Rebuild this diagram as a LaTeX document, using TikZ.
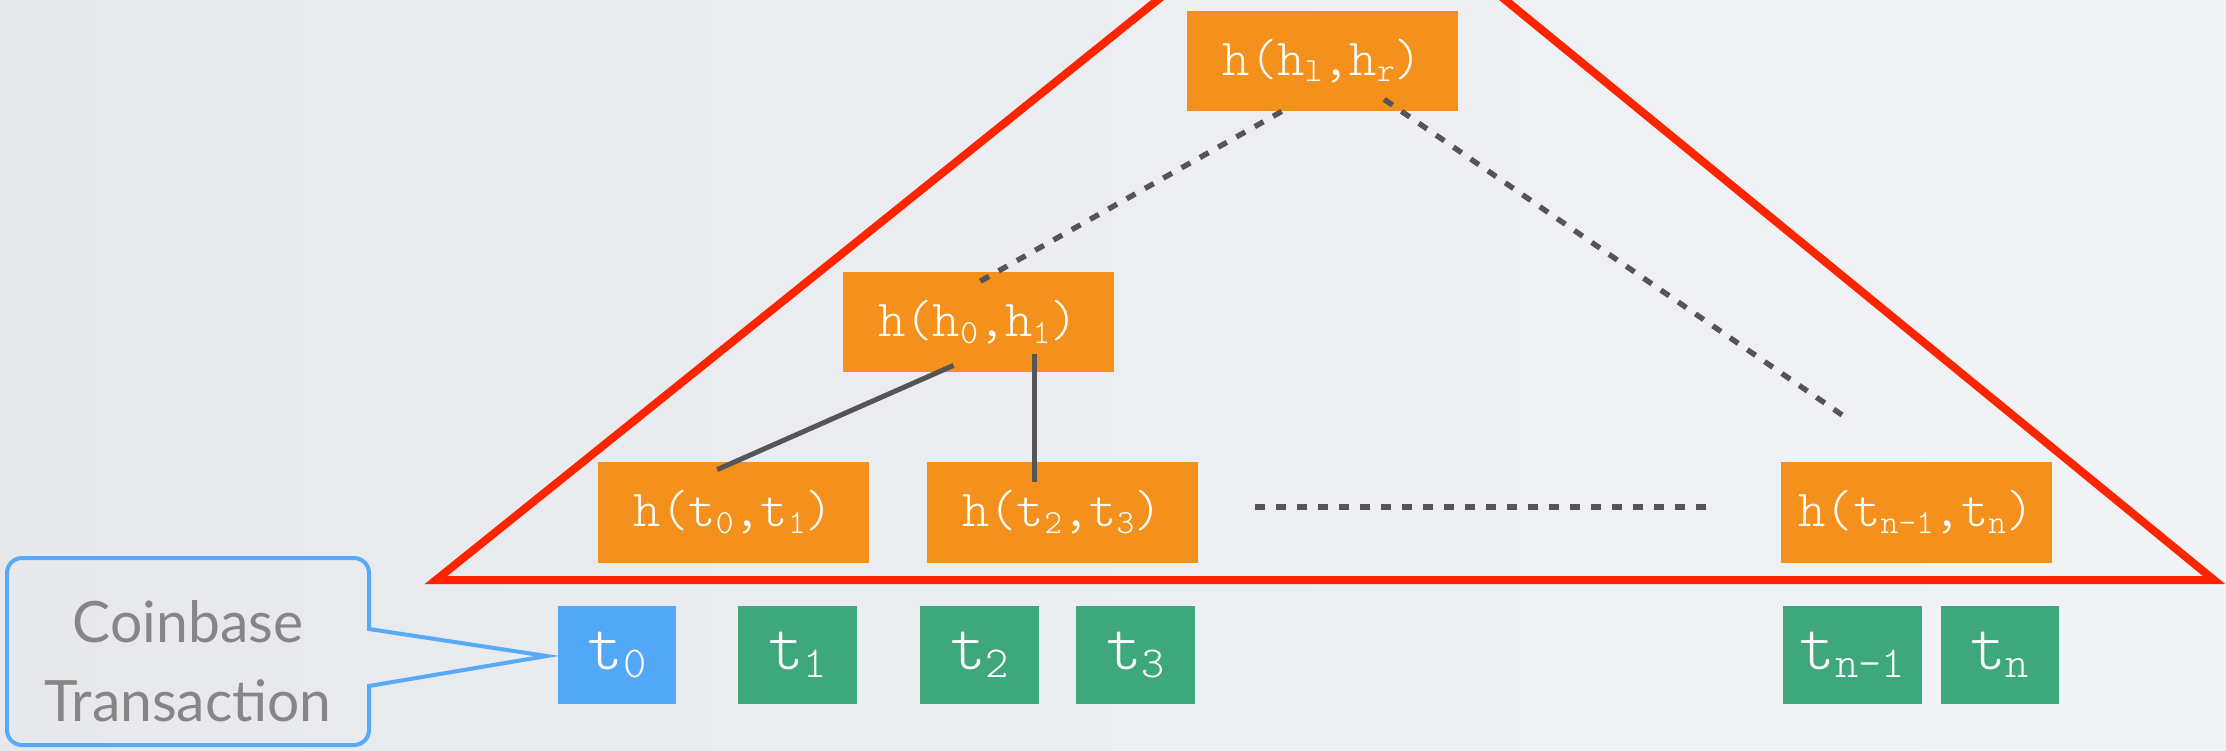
\documentclass[tikz,border=0pt]{standalone}
\usepackage{fontspec}
\usepackage{graphicx}
\newfontfamily\hashfont{Latin Modern Mono Light}
\newfontfamily\callfont{Lato}
\usetikzlibrary{calc}
\definecolor{bgL}{RGB}{230,232,236}
\definecolor{bgR}{RGB}{242,243,246}
\definecolor{orangeA}{RGB}{243,145,28}
\definecolor{greenA}{RGB}{62,167,123}
\definecolor{blueA}{RGB}{82,168,247}
\definecolor{calloutA}{RGB}{87,170,248}
\definecolor{redA}{RGB}{255,36,0}
\definecolor{lineA}{RGB}{85,85,85}
\definecolor{txtA}{RGB}{134,134,134}
\newcommand{\sbs}[1]{\raisebox{-0.12em}{\scalebox{0.65}{#1}}}
\begin{document}
\begin{tikzpicture}[x=0.5pt,y=0.5pt,
  hashbox/.style={fill=orangeA, text=white, minimum width=135.5pt, minimum height=50pt, inner sep=0pt, font=\fontsize{26}{30}\selectfont\hashfont},
  leafbox/.style={fill=greenA, text=white, minimum width=59.5pt, minimum height=49pt, inner sep=0pt, font=\fontsize{34}{38}\selectfont\hashfont},
  redline/.style={draw=redA, line width=4pt, line join=miter},
  dline/.style={draw=lineA, line width=2.7pt, dash pattern=on 5pt off 5.5pt},
  sline/.style={draw=lineA, line width=2.5pt},
  callout/.style={draw=calloutA, line width=2pt, line join=miter}]
\useasboundingbox (0,0) rectangle (2226,750);
\shade[left color=bgL, right color=bgR] (0,0) rectangle (2226,750);
\begin{scope}
\clip (0,0) rectangle (2226,750);
\draw[redline] (436,170) -- (1333,891) -- (2214,170) -- cycle;
\end{scope}
% hash nodes
\node[hashbox] (root) at (1322.5,689) {h(h\sbs{l},h\sbs{r})};
\node[hashbox] (mid) at (978,427.5) {h(h\sbs{0},h\sbs{1})};
\node[hashbox] (h01) at (733.5,237.5) {h(t\sbs{0},t\sbs{1})};
\node[hashbox] (h23) at (1062,237.5) {h(t\sbs{2},t\sbs{3})};
\node[hashbox] (htn) at (1916,237.5) {h(t\sbs{n-1},t\sbs{n})};
% leaves
\node[leafbox, fill=blueA, minimum width=59pt] (t0) at (617,95) {t\sbs{0}};
\node[leafbox] (t1) at (797.5,95) {t\sbs{1}};
\node[leafbox] (t2) at (979.5,95) {t\sbs{2}};
\node[leafbox] (t3) at (1135.5,95) {t\sbs{3}};
\node[leafbox, minimum width=69.5pt] (tn1) at (1852.5,95) {t\sbs{n-1}};
\node[leafbox, minimum width=59pt] (tn) at (1999.5,95) {t\sbs{n}};
% callout
\node[font=\callfont\fontsize{28.5}{39.5}\selectfont, text=txtA, align=center, inner sep=0pt] (cbtext) at (188,89) {Coinbase\\Transaction};
\coordinate (cbtip) at ($(t0.west)+(-11,-1)$);
\draw[callout] (369,121) -- (369,177) arc[start angle=0,end angle=90,radius=7.5pt] -- (22,192) arc[start angle=90,end angle=180,radius=7.5pt] -- (7,20) arc[start angle=180,end angle=270,radius=7.5pt] -- (354,5) arc[start angle=270,end angle=360,radius=7.5pt] -- (369,64) -- (cbtip) -- cycle;
% connectors
\draw[dline] ($(root.south west)!0.35!(root.south east)$) -- ($(mid.north)+(-1,-11)$);
\coordinate (rfree) at ($(htn.north west)!0.25!(htn.north east)+(0,43)$);
\draw[dline] ($(root.south west)!0.727!(root.south east)+(0,12)$) -- (rfree);
\draw[sline] ($(mid.south west)!0.41!(mid.south east)+(0,7.5)$) -- ($(h01.north west)!0.44!(h01.north east)+(0,-7.5)$);
\coordinate (vs) at ($(mid.south west)!0.707!(mid.south east)+(0,19)$);
\draw[sline] (vs) -- ($(vs |- h23.north)+(0,-20)$);
\draw[dline] ($(h23.east)+(57,5.5)$) -- ($(htn.west)+(-66,5.5)$);
\end{tikzpicture}
\end{document}
